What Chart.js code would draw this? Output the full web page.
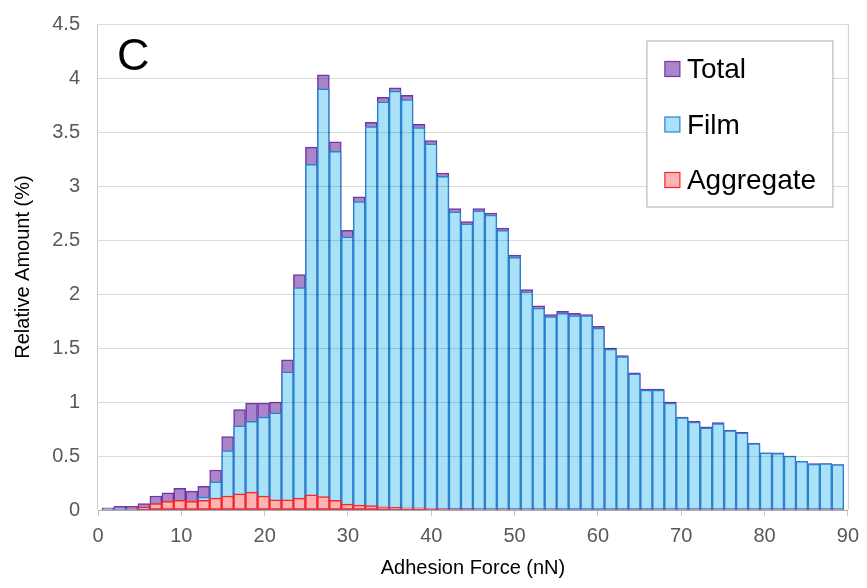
<!DOCTYPE html>
<html>
<head>
<meta charset="utf-8">
<script src="https://cdn.jsdelivr.net/npm/chart.js@4.4.1/dist/chart.umd.min.js"></script>
<style>
  html, body { margin: 0; padding: 0; background: #fff; }
  #wrap { width: 867px; height: 588px; }
</style>
</head>
<body>
<div id="wrap"><canvas id="adhesionChart"></canvas></div>
<script>
// bin centres of the adhesion force histogram (nN)
const binCenters = [
  1.20, 2.63, 4.07, 5.51, 6.94, 8.38, 9.81, 11.25, 12.69, 14.12,
  15.56, 16.99, 18.43, 19.87, 21.30, 22.74, 24.17, 25.61, 27.05, 28.48,
  29.92, 31.35, 32.79, 34.23, 35.66, 37.10, 38.53, 39.97, 41.40, 42.84,
  44.28, 45.71, 47.15, 48.58, 50.02, 51.46, 52.89, 54.33, 55.76, 57.20,
  58.64, 60.07, 61.51, 62.94, 64.38, 65.82, 67.25, 68.69, 70.12, 71.56,
  73.00, 74.43, 75.87, 77.30, 78.74, 80.17, 81.61, 83.05, 84.48, 85.92,
  87.35, 88.79
];

// relative amount (%) per bin
const totalPct = [
  0.02, 0.035, 0.035, 0.06, 0.13, 0.16, 0.20, 0.175, 0.22, 0.37,
  0.68, 0.93, 0.99, 0.99, 1.00, 1.39, 2.18, 3.36, 4.03, 3.41,
  2.59, 2.90, 3.59, 3.82, 3.91, 3.84, 3.57, 3.42, 3.12, 2.79,
  2.67, 2.79, 2.75, 2.61, 2.36, 2.04, 1.89, 1.81, 1.84, 1.82,
  1.81, 1.70, 1.50, 1.43, 1.27, 1.12, 1.12, 1.00, 0.86, 0.82,
  0.77, 0.81, 0.74, 0.72, 0.62, 0.53, 0.53, 0.50, 0.45, 0.43,
  0.43, 0.42
];
const filmPct = [
  0.01, 0.015, 0.015, 0.02, 0.06, 0.07, 0.08, 0.08, 0.12, 0.26,
  0.55, 0.78, 0.82, 0.86, 0.90, 1.28, 2.06, 3.20, 3.90, 3.32,
  2.53, 2.855, 3.55, 3.78, 3.88, 3.80, 3.54, 3.39, 3.09, 2.76,
  2.65, 2.77, 2.73, 2.59, 2.34, 2.02, 1.87, 1.79, 1.82, 1.80,
  1.80, 1.685, 1.49, 1.42, 1.26, 1.11, 1.11, 0.99, 0.855, 0.815,
  0.76, 0.80, 0.735, 0.715, 0.615, 0.53, 0.525, 0.50, 0.45, 0.425,
  0.43, 0.42
];
const aggregatePct = [
  0.005, 0.005, 0.01, 0.025, 0.06, 0.08, 0.09, 0.08, 0.09, 0.11,
  0.13, 0.15, 0.165, 0.13, 0.095, 0.095, 0.11, 0.14, 0.125, 0.09,
  0.055, 0.045, 0.04, 0.03, 0.025, 0.02, 0.02, 0.015, 0.012, 0.01,
  0.01, 0.008, 0.008, 0.008, 0.008, 0.006, 0.006, 0.006, 0.005, 0.005,
  0.005, 0.005, 0.004, 0.004, 0.004, 0.004, 0.003, 0.003, 0.003, 0.003,
  0.003, 0.003, 0.002, 0.002, 0.002, 0.002, 0.002, 0.002, 0.002, 0.002,
  0.002, 0.002
];

const FONT = '"Liberation Sans", Arial, sans-serif';

function toPoints(values) {
  return values.map((v, i) => ({ x: binCenters[i], y: v }));
}

// overlaid (not grouped) bars; lower order is painted on top
const barBase = {
  borderWidth: 1.5,
  borderSkipped: false,
  grouped: false,
  barPercentage: 1.0,
  categoryPercentage: 1.0
};

// plot frame sides, legend box and the panel letter
const panelDecor = {
  id: 'panelDecor',
  afterDraw(chart) {
    const { ctx, chartArea: a } = chart;
    ctx.save();

    ctx.strokeStyle = '#cfcfcf';
    ctx.lineWidth = 1;
    ctx.beginPath();
    ctx.moveTo(a.left - 0.5, a.top);
    ctx.lineTo(a.left - 0.5, a.bottom);
    ctx.moveTo(a.right + 0.5, a.top);
    ctx.lineTo(a.right + 0.5, a.bottom);
    ctx.stroke();

    ctx.fillStyle = '#000';
    ctx.font = '45px ' + FONT;
    ctx.textBaseline = 'alphabetic';
    ctx.fillText('C', a.left + 19, a.top + 46);

    const bx = a.right - 201, by = a.top + 17, bw = 186, bh = 166;
    ctx.fillStyle = '#fff';
    ctx.fillRect(bx, by, bw, bh);
    ctx.strokeStyle = '#c8c8c8';
    ctx.lineWidth = 1.5;
    ctx.strokeRect(bx, by, bw, bh);

    ctx.font = '28px ' + FONT;
    chart.data.datasets.forEach((ds, i) => {
      const cy = by + 28 + i * 55.5;
      ctx.fillStyle = ds.backgroundColor;
      ctx.fillRect(bx + 18, cy - 7.5, 15, 15);
      ctx.strokeStyle = ds.borderColor;
      ctx.lineWidth = 1.2;
      ctx.strokeRect(bx + 18, cy - 7.5, 15, 15);
      ctx.fillStyle = '#000';
      ctx.fillText(ds.label, bx + 40, cy + 9);
    });
    ctx.restore();
  }
};

new Chart(document.getElementById('adhesionChart'), {
  type: 'bar',
  data: {
    datasets: [
      {
        ...barBase,
        label: 'Total',
        data: toPoints(totalPct),
        backgroundColor: '#a886c9',
        borderColor: '#7433a6',
        order: 3
      },
      {
        ...barBase,
        label: 'Film',
        data: toPoints(filmPct),
        backgroundColor: '#a9e1f8',
        borderColor: '#2b83cf',
        order: 2
      },
      {
        ...barBase,
        label: 'Aggregate',
        data: toPoints(aggregatePct),
        backgroundColor: '#ffb4b4',
        borderColor: '#ff2323',
        order: 1
      }
    ]
  },
  options: {
    responsive: true,
    maintainAspectRatio: false,
    animation: false,
    devicePixelRatio: 1,
    layout: { padding: { top: 24, right: 19, left: 0, bottom: 0 } },
    plugins: {
      legend: { display: false },
      tooltip: { enabled: false }
    },
    scales: {
      x: {
        type: 'linear',
        min: 0,
        max: 90,
        offset: false,
        grid: {
          offset: false,
          drawOnChartArea: false,
          drawTicks: true,
          tickLength: 6,
          color: '#c8c8c8'
        },
        border: { color: '#c8c8c8', width: 1 },
        ticks: {
          stepSize: 10,
          padding: 8,
          color: '#595959',
          font: { family: FONT, size: 20 }
        },
        title: {
          display: true,
          text: 'Adhesion Force (nN)',
          color: '#000',
          font: { family: FONT, size: 20 },
          padding: { top: 0, bottom: 8 }
        },
        afterFit(scale) { scale.height = 78; }
      },
      y: {
        min: 0,
        max: 4.5,
        grid: {
          color: 'rgba(0,0,0,0.14)',
          drawTicks: true,
          tickLength: 12,
          tickColor: 'rgba(0,0,0,0)',
          z: 1
        },
        border: { display: false },
        ticks: {
          stepSize: 0.5,
          padding: 6,
          color: '#595959',
          font: { family: FONT, size: 20 },
          callback: (v) => String(Number(v.toFixed(1)))
        },
        title: {
          display: true,
          text: 'Relative Amount (%)',
          color: '#000',
          font: { family: FONT, size: 20 },
          padding: { top: 11, bottom: 0 }
        },
        afterFit(scale) { scale.width = 98; }
      }
    }
  },
  plugins: [panelDecor]
});
</script>
</body>
</html>
